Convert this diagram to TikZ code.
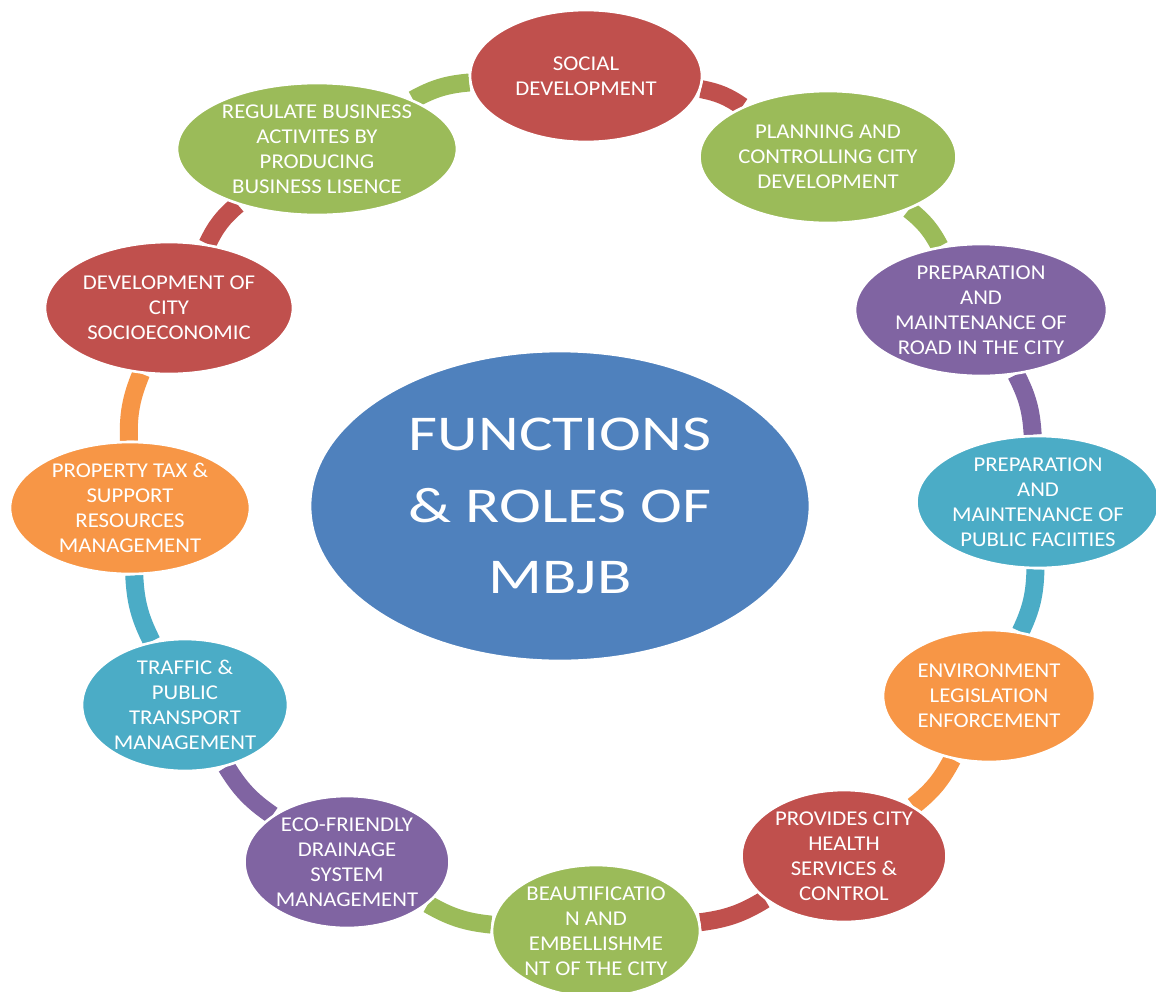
\documentclass[tikz,border=0pt]{standalone}
\usepackage{fontspec}
\setmainfont{Carlito}[FakeStretch=1.08]
\newfontfamily\titlefont{Carlito}[FakeStretch=1.26]
\usetikzlibrary{shapes.geometric}
\usetikzlibrary{backgrounds}

\definecolor{mbred}{HTML}{C0504D}
\definecolor{mbgreen}{HTML}{9BBB59}
\definecolor{mbpurple}{HTML}{8064A2}
\definecolor{mbaqua}{HTML}{4BACC6}
\definecolor{mborange}{HTML}{F79646}
\definecolor{mbblue}{HTML}{4F81BD}

\tikzset{
 role/.style={ellipse, draw=white, line width=1.5pt, fill=#1, text=white, align=center,
   inner sep=0pt, minimum height=2.64cm, font=\fontsize{12}{14.2}\selectfont},
 band/.style={#1, line width=0.36cm},
}

\begin{document}
\begin{tikzpicture}[x=0.02cm, y=-0.02cm]
\useasboundingbox (0,0) rectangle (1156,991);
\node[role=mbblue, minimum width=10cm, minimum height=6.2cm, font=\titlefont\fontsize{28.5}{40.5}\selectfont] (centre) at (560,506) {FUNCTIONS\\ \& ROLES OF\\ MBJB};
\node[role=mbred, minimum width=4.64cm] (social) at (586,76) {SOCIAL\\ DEVELOPMENT};
\node[role=mbgreen, minimum width=5.14cm] (planning) at (828,157) {PLANNING AND\\ CONTROLLING CITY\\ DEVELOPMENT};
\node[role=mbpurple, minimum width=5.04cm] (road) at (981,310) {PREPARATION\\ AND\\ MAINTENANCE OF\\ ROAD IN THE CITY};
\node[role=mbaqua, minimum width=4.84cm] (facilities) at (1038,502) {PREPARATION\\ AND\\ MAINTENANCE OF\\ PUBLIC FACIITIES};
\node[role=mborange, minimum width=4.24cm] (environment) at (989,696) {ENVIRONMENT\\ LEGISLATION\\ ENFORCEMENT};
\node[role=mbred, minimum width=4.1cm] (health) at (844,856) {PROVIDES CITY\\ HEALTH\\ SERVICES \&\\ CONTROL};
\node[role=mbgreen, minimum width=4.16cm] (beauty) at (596,931) {BEAUTIFICATIO\\ N AND\\ EMBELLISHME\\ NT OF THE CITY};
\node[role=mbpurple, minimum width=4.1cm] (drainage) at (347,862) {ECO-FRIENDLY\\ DRAINAGE\\ SYSTEM\\ MANAGEMENT};
\node[role=mbaqua, minimum width=4.12cm] (traffic) at (185,705) {TRAFFIC \&\\ PUBLIC\\ TRANSPORT\\ MANAGEMENT};
\node[role=mborange, minimum width=4.8cm] (property) at (130,508) {PROPERTY TAX \&\\ SUPPORT\\ RESOURCES\\ MANAGEMENT};
\node[role=mbred, minimum width=4.96cm] (socioeco) at (169,308) {DEVELOPMENT OF\\ CITY\\ SOCIOECONOMIC};
\node[role=mbgreen, minimum width=5.6cm] (business) at (317,149) {REGULATE BUSINESS\\ ACTIVITES BY\\ PRODUCING\\ BUSINESS LISENCE};
\begin{scope}[on background layer]
\fill[white] (0,0) rectangle (1156,991);
\foreach \a/\b/\c in {social/planning/mbred, planning/road/mbgreen, road/facilities/mbpurple,
  facilities/environment/mbaqua, environment/health/mborange, health/beauty/mbred,
  beauty/drainage/mbgreen, drainage/traffic/mbpurple, traffic/property/mbaqua,
  property/socioeco/mborange, socioeco/business/mbred, business/social/mbgreen}
 \draw[band=\c] (\a) to[bend left=12] (\b);
\end{scope}
\end{tikzpicture}
\end{document}
